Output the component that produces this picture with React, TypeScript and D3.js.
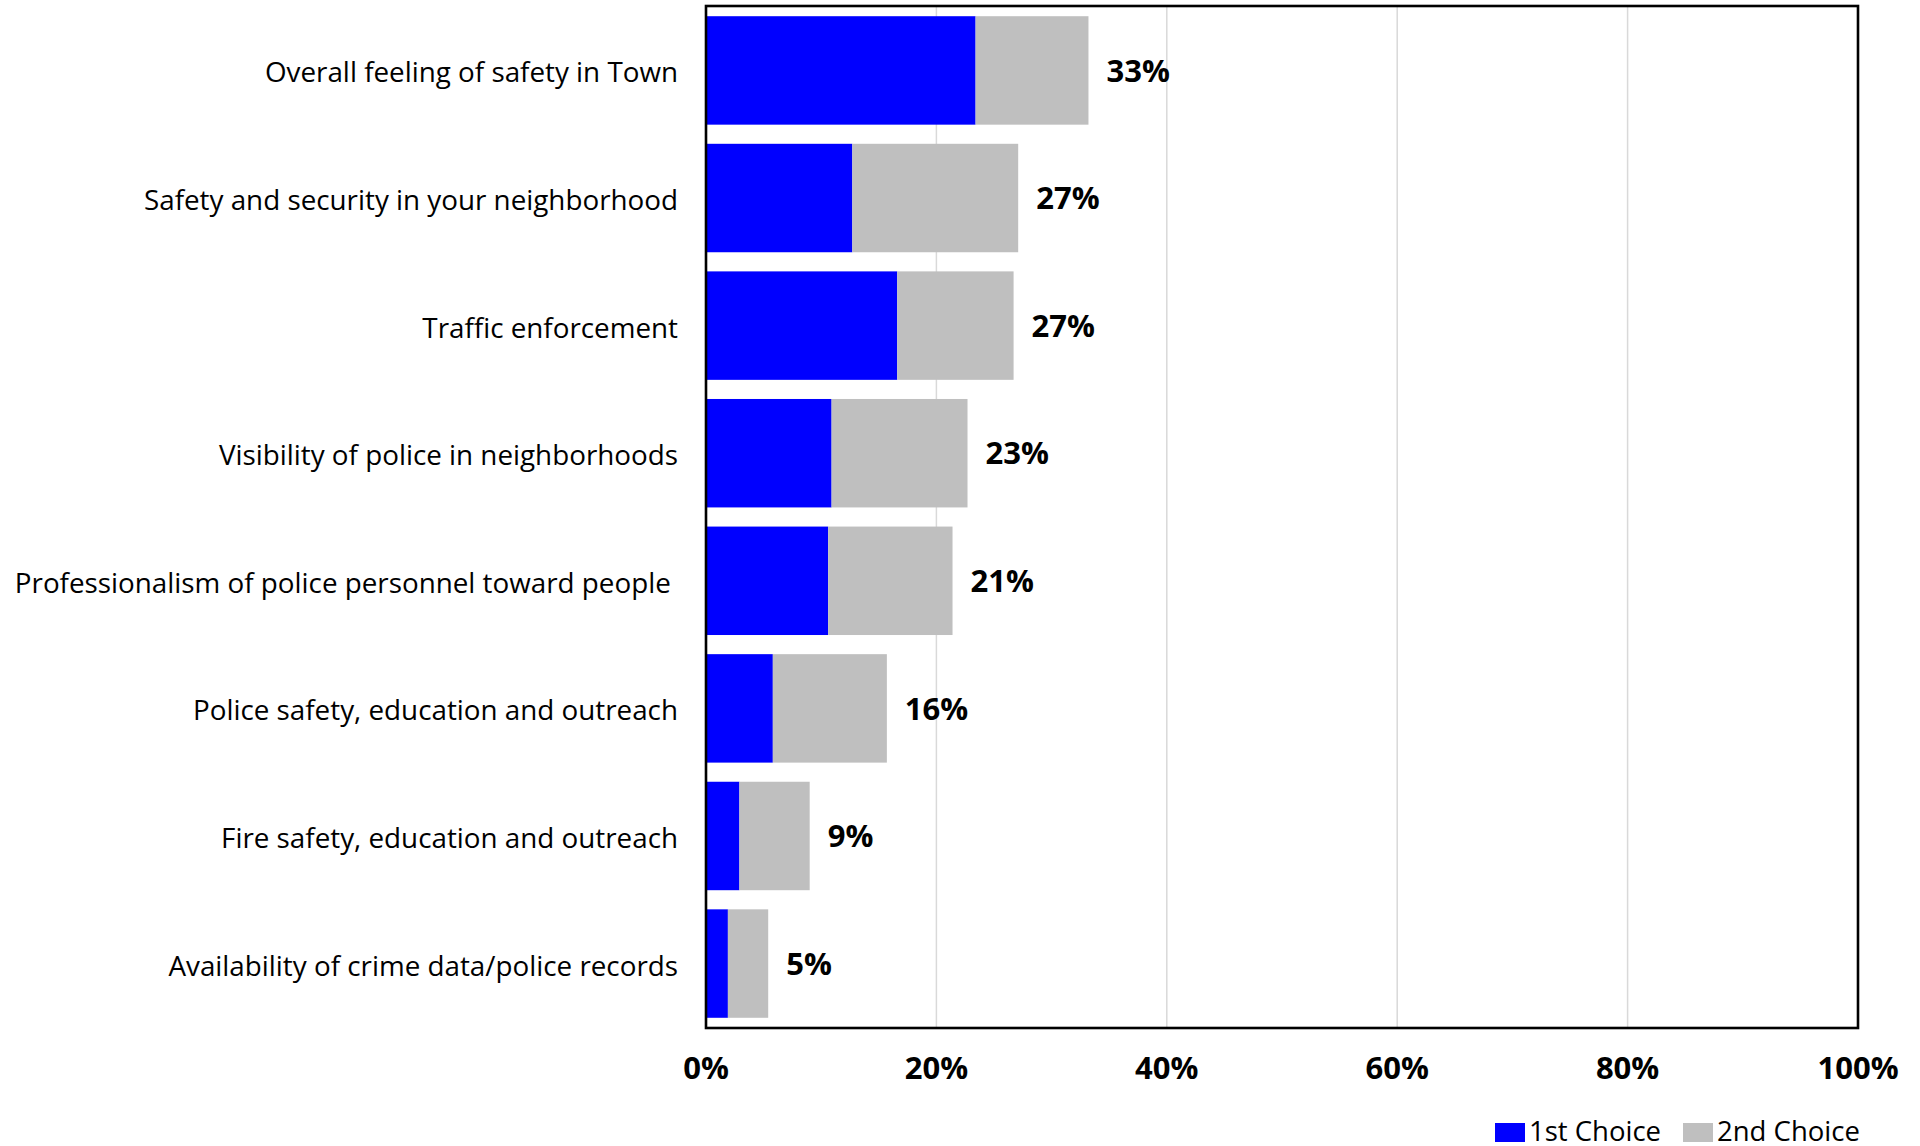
import React from "react";
import * as d3 from "d3";

const categories = [
  "Overall feeling of safety in Town",
  "Safety and security in your neighborhood",
  "Traffic enforcement",
  "Visibility of police in neighborhoods",
  "Professionalism of police personnel toward people ",
  "Police safety, education and outreach",
  "Fire safety, education and outreach",
  "Availability of crime data/police records",
];
const firstChoice = [23.4, 12.7, 16.6, 10.9, 10.6, 5.8, 2.9, 1.9];
const secondChoice = [9.8, 14.4, 10.1, 11.8, 10.8, 9.9, 6.1, 3.5];
const totalLabels = ["33%", "27%", "27%", "23%", "21%", "16%", "9%", "5%"];
const xTicks = [0, 20, 40, 60, 80, 100];
const seriesNames = ["1st Choice", "2nd Choice"];
const seriesColors = ["#0000FF", "#BFBFBF"];

const W = 1920;
const H = 1146;
const left = 706;
const right = 1858;
const top = 6;
const bottom = 1028;
const FONT = "'Open Sans', sans-serif";

export default function App() {
  if (typeof document !== "undefined") {
    document.body.style.margin = "0";
    document.body.style.overflow = "hidden";
  }
  const x = d3.scaleLinear().domain([0, 100]).range([left, right]);
  const y = d3
    .scaleBand<string>()
    .domain(categories)
    .range([top, bottom])
    .paddingInner(0.15)
    .paddingOuter(0.08);

  const rows = categories.map((c, i) => ({
    c,
    a: firstChoice[i],
    b: secondChoice[i],
    label: totalLabels[i],
  }));

  return (
    <svg width={W} height={H} style={{ position: "absolute", left: 0, top: 0, background: "#fff" }}>
      <rect x={0} y={0} width={W} height={H} fill="#fff" />
      {xTicks
        .filter((t) => t > 0 && t < 100)
        .map((t) => (
          <line key={t} x1={x(t)} x2={x(t)} y1={top} y2={bottom} stroke="#D9D9D9" strokeWidth={1.5} />
        ))}
      {rows.map((r) => {
        const yy = y(r.c)!;
        const h = y.bandwidth();
        return (
          <g key={r.c}>
            <rect x={x(0)} y={yy} width={x(r.a) - x(0)} height={h} fill={seriesColors[0]} />
            <rect x={x(r.a)} y={yy} width={x(r.a + r.b) - x(r.a)} height={h} fill={seriesColors[1]} />
            <text
              x={x(r.a + r.b) + 18}
              y={yy + h / 2}
              dy="0.36em"
              fontFamily={FONT}
              fontWeight={700}
              fontSize={31}
              fill="#000"
            >
              {r.label}
            </text>
            <text
              x={678}
              y={yy + h / 2 + 2}
              dy="0.36em"
              textAnchor="end"
              fontFamily={FONT}
              fontSize={27.8}
              fill="#000"
              style={{ whiteSpace: "pre" }}
            >
              {r.c}
            </text>
          </g>
        );
      })}
      <rect x={left} y={top} width={right - left} height={bottom - top} fill="none" stroke="#000" strokeWidth={2.6} />
      {xTicks.map((t) => (
        <text
          key={t}
          x={x(t)}
          y={1079}
          textAnchor="middle"
          fontFamily={FONT}
          fontWeight={700}
          fontSize={31}
          fill="#000"
        >
          {t}%
        </text>
      ))}
      <g>
        <rect x={1495} y={1123} width={30} height={19} fill={seriesColors[0]} />
        <text x={1529} y={1141} fontFamily={FONT} fontSize={27.5} fill="#000">
          {seriesNames[0]}
        </text>
        <rect x={1683} y={1123} width={30} height={19} fill={seriesColors[1]} />
        <text x={1717} y={1141} fontFamily={FONT} fontSize={27.5} fill="#000">
          {seriesNames[1]}
        </text>
      </g>
    </svg>
  );
}
